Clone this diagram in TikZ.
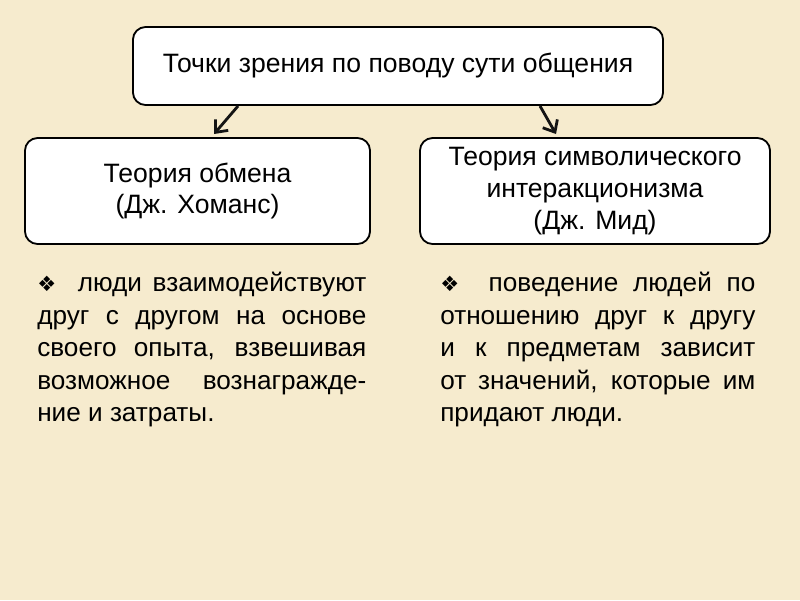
\documentclass[tikz,border=0pt]{standalone}
\usepackage{fontspec}
\setmainfont{Liberation Sans}
\newfontfamily\dejavu{DejaVu Sans}
\usepackage{xcolor}
\definecolor{fondo}{RGB}{246, 235, 206}
\definecolor{tinta}{RGB}{20, 20, 20}
\usepackage{tikz}
\usetikzlibrary{arrows.meta,positioning}
\tikzstyle{caja}  =[draw, fill=white, rounded corners=9pt,
                    line width=1.3pt, align=center,
                    font=\fontsize{18.9}{22.6}\selectfont]
\tikzstyle{flecha}=[-{Straight Barb[length=7pt,width=12pt]},
                    line width=2pt]
\tikzstyle{texto} =[inner sep=0pt, align=justify, anchor=north west,
                    font=\fontsize{18.6}{23.1}\selectfont]
\newcommand{\vineta}{{\dejavu\fontsize{15}{15}\selectfont ❖}}

\begin{document}
\begin{tikzpicture}[x=0.025cm,y=-0.025cm]

    \fill[fondo] (0,0) rectangle (800,600);
    \useasboundingbox (0,0) rectangle (800,600);

    % cajas
    \node (puntos) [caja, minimum width=13.25cm, minimum height=1.95cm]
        at (398,66) {Точки зрения по поводу сути общения};
    \node (obmen) [caja, minimum width=8.625cm, minimum height=2.65cm]
        at (197.5,191) {Теория обмена\\(Дж. Хоманс)};
    \node (simbol) [caja, minimum width=8.75cm, minimum height=2.65cm]
        at (595,191) {Теория символического\\интеракционизма\\(Дж. Мид)};

    % flechas
    \coordinate (iz1) at (238,106);
    \coordinate (iz2) at (214,134);
    \coordinate (de1) at (540,106);
    \coordinate (de2) at (556,134);
    \draw [flecha,tinta] (iz1) to (iz2);
    \draw [flecha,tinta] (de1) to (de2);

    % textos
    \node (tobmen) [texto, text width=8.225cm] at (37,272)
        {\vineta\ \ люди взаимодействуют\linebreak
         друг с другом на основе\linebreak
         своего опыта, взвешивая\linebreak
         возможное вознагражде-\linebreak
         ние и затраты.};
    \node (tsimbol) [texto, text width=7.875cm] at (440,272)
        {\vineta\ \ поведение людей по\linebreak
         отношению друг к другу\linebreak
         и к предметам зависит\linebreak
         от значений, которые им\linebreak
         придают люди.};

\end{tikzpicture}
\end{document}
